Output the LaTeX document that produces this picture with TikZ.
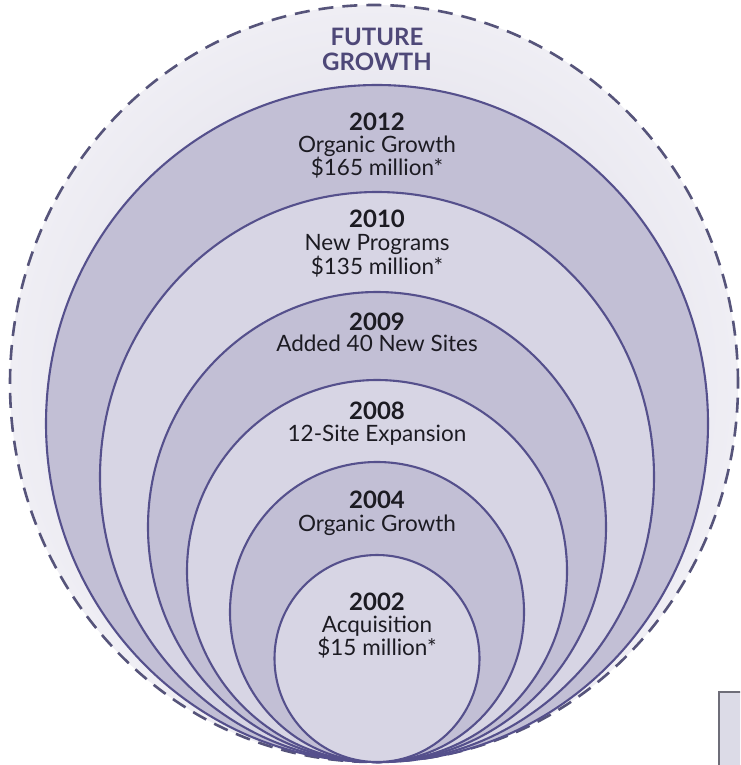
\documentclass[tikz,border=0pt]{standalone}
\usepackage{fontspec}
\setmainfont{Lato}
\usetikzlibrary{shapes.geometric}

\definecolor{rimline}{HTML}{56547A}
\definecolor{ringline}{HTML}{55508C}
\definecolor{bandDark}{HTML}{C2BFD5}
\definecolor{bandLight}{HTML}{D7D5E4}
\definecolor{outerIn}{HTML}{D6D4E2}
\definecolor{outerOut}{HTML}{EFEEF4}
\definecolor{titlePurple}{HTML}{4E4878}
\definecolor{ink}{HTML}{1C1B22}
\definecolor{boxEdge}{HTML}{6E6D78}
\definecolor{boxFill}{HTML}{DCDBE7}

\newcommand{\yr}[1]{{\bfseries\fontsize{24}{20}\selectfont #1}}

\tikzset{
  ring/.style={draw=ringline, line width=2.1pt},
  stage/.style={font=\fontsize{22.5}{20}\selectfont, text=ink, inner sep=0pt,
                align=center, anchor=north},
  title/.style={font=\bfseries\fontsize{24}{25}\selectfont, text=titlePurple,
                inner sep=0pt, align=center}
}

\begin{document}
\begin{tikzpicture}[x=1pt,y=-1pt]
  \useasboundingbox (0,0) rectangle (740,765);
  \clip (0,0) rectangle (740,765);
  \fill[white] (0,0) rectangle (740,765);

  % outer ring: future growth, dashed rim
  \shade[inner color=outerIn, outer color=outerOut]
    (374,383.5) ellipse [x radius=364pt, y radius=378.5pt];
  \draw[rimline, line width=2.6pt, dash pattern=on 15pt off 9pt]
    (374,383.5) ellipse [x radius=364pt, y radius=378.5pt];

  % nested growth stages, all touching at the bottom
  \filldraw[ring, fill=bandDark]  (377,423.5) ellipse [x radius=331pt, y radius=338.5pt];
  \filldraw[ring, fill=bandLight] (377,477)   ellipse [x radius=277pt, y radius=285pt];
  \filldraw[ring, fill=bandDark]  (377,527)   ellipse [x radius=229pt, y radius=235pt];
  \filldraw[ring, fill=bandLight] (377,571)   ellipse [x radius=190pt, y radius=191pt];
  \filldraw[ring, fill=bandDark]  (377,612)   ellipse [x radius=147pt, y radius=150pt];
  \filldraw[ring, fill=bandLight] (377,658.5) ellipse [x radius=102.5pt, y radius=103.5pt];

  % labels
  \node[title] (future) at (377,49) {FUTURE\\GROWTH};

  \node[stage] (s2012) at (377,112.5) {\yr{2012}\\[2pt]Organic Growth\\\$165 million*};
  \node[stage] (s2010) at (377,210)   {\yr{2010}\\[3pt]New Programs\\\$135 million*};
  \node[stage] (s2009) at (377,312.5) {\yr{2009}\\[1pt]Added 40 New Sites};
  \node[stage] (s2008) at (377,401.5) {\yr{2008}\\[2pt]12-Site Expansion};
  \node[stage] (s2004) at (377,490.5) {\yr{2004}\\[3pt]Organic Growth};
  \node[stage] (s2002) at (377,592.5) {\yr{2002}\\[2pt]Acquisition\\\$15 million*};

  % edge of a neighbouring panel
  \filldraw[draw=boxEdge, fill=boxFill, line width=1.5pt] (719,692) rectangle (760,780);
\end{tikzpicture}
\end{document}
